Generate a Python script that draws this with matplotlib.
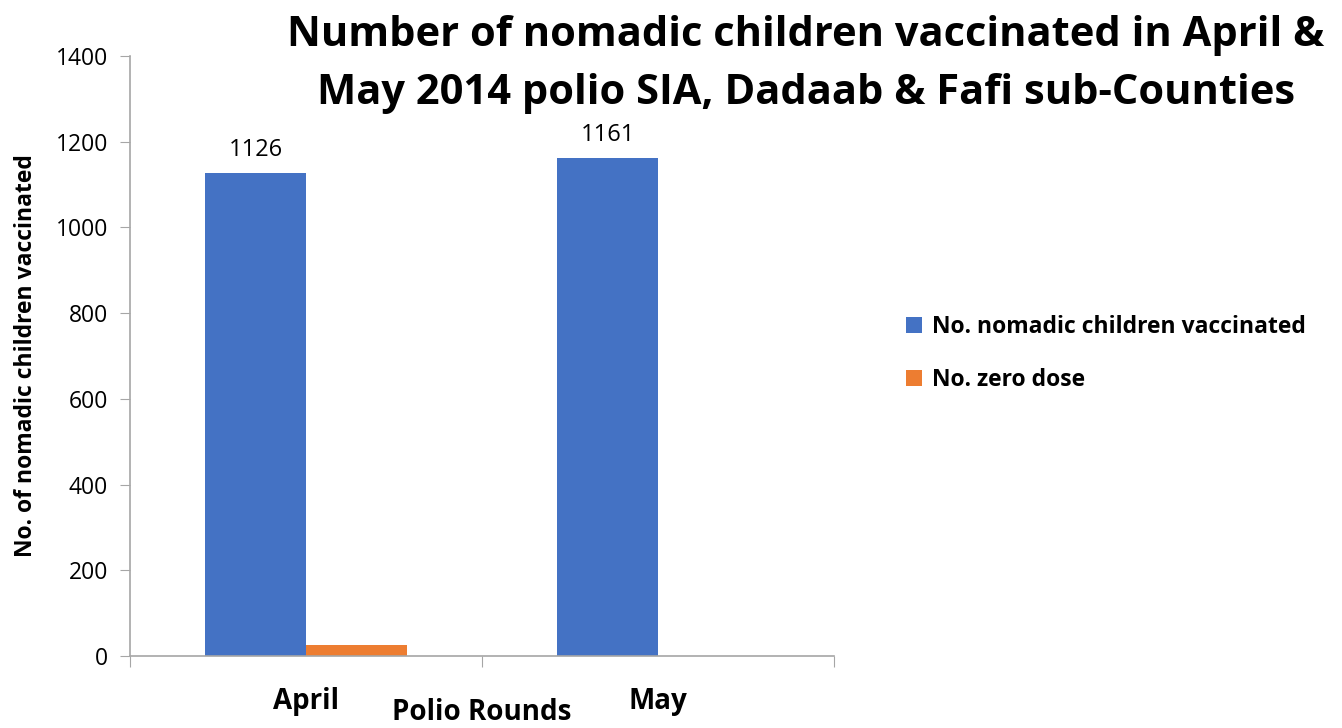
import matplotlib
matplotlib.use("Agg")
import matplotlib.pyplot as plt
import numpy as np

categories = ["April", "May"]
vaccinated = [1126, 1161]
zero_dose = [25, 0]
series_names = ["No. nomadic children vaccinated", "No. zero dose"]
title = "Number of nomadic children vaccinated in April &\nMay 2014 polio SIA, Dadaab & Fafi sub-Counties"

plt.rcParams['font.family'] = ['Open Sans', 'DejaVu Sans']

fig = plt.figure(figsize=(13.42, 7.28), dpi=100)
ax = fig.add_axes([0.0969, 0.0989, 0.5246, 0.8241])

x = np.arange(len(categories))
w = 0.287
b1 = ax.bar(x - w/2, vaccinated, w, color="#4472C4", label=series_names[0])
b2 = ax.bar(x + w/2, zero_dose, w, color="#ED7D31", label=series_names[1])

for rect, v in zip(b1, vaccinated):
    ax.annotate(str(v), (rect.get_x() + rect.get_width()/2, v), xytext=(0, 8),
                textcoords="offset points", ha="center", va="bottom", fontsize=17)

ax.set_xlim(-0.5, 1.5)
ax.set_ylim(0, 1400)
ax.set_yticks(range(0, 1401, 200))
ax.tick_params(axis='y', labelsize=16.5, length=7, color="#A6A6A6", pad=9)
ax.set_xticks([-0.5, 0.5, 1.5], minor=False)
ax.set_xticklabels([])
ax.set_xticks(x, minor=True)
ax.set_xticklabels(categories, minor=True, fontsize=20, fontweight='bold')
ax.tick_params(axis='x', which='major', length=8, color="#A6A6A6")
ax.tick_params(axis='x', which='minor', length=0, pad=22)

for s in ["top", "right"]:
    ax.spines[s].set_visible(False)
for s in ["left", "bottom"]:
    ax.spines[s].set_color("#A6A6A6")
    ax.spines[s].set_linewidth(1.2)

ax.set_ylabel("No. of nomadic children vaccinated", fontsize=16.5, fontweight='bold',
              va='center')
ax.yaxis.set_label_coords(-0.148, 0.5)
ax.set_xlabel("Polio Rounds", fontsize=20, fontweight='bold', va='center')
ax.xaxis.set_label_coords(0.5, -0.095)

fig.text(0.6006, 0.979, title, ha="center", va="top", fontsize=30, fontweight='bold',
         linespacing=1.53)

fig.legend(handles=[b1, b2], labels=series_names, loc="center left",
           bbox_to_anchor=(0.66, 0.514), frameon=False,
           prop={'weight': 'bold', 'size': 16.5}, handlelength=0.7, handleheight=0.7,
           handletextpad=0.4, labelspacing=1.25)

fig.savefig("out.png", dpi=100)
